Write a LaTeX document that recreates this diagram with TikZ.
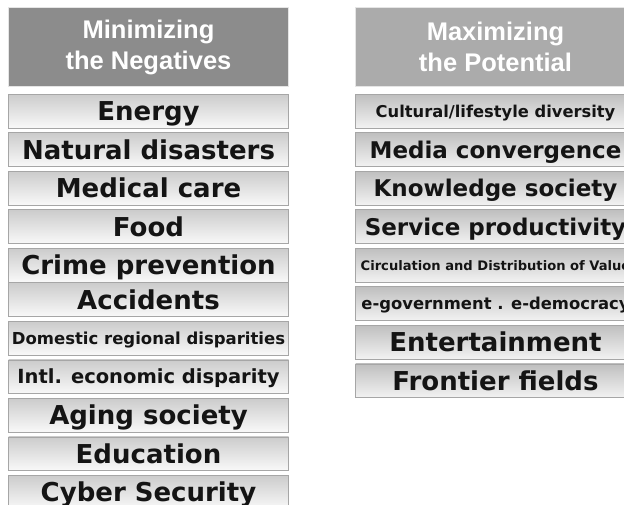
\documentclass[tikz,border=0pt]{standalone}
\usepackage{fontspec}
\newfontfamily\headfont{Liberation Sans}
\newfontfamily\boxfont{DejaVu Sans}
\usetikzlibrary{positioning}
\newcommand\boxtxt[1]{\boxfont\bfseries\fontsize{#1}{#1}\selectfont}
\tikzstyle{titre}=[rectangle,draw=gray!20,line width=1pt,text=white,minimum width=280pt,minimum height=79pt,inner sep=0pt,align=center,font=\headfont\bfseries\fontsize{25.5}{31}\selectfont]
\tikzstyle{case}=[rectangle,draw=gray!70,line width=0.8pt,top color=gray!40,bottom color=gray!5,minimum width=280pt,minimum height=33.7pt,inner sep=0pt,text=black!92]
\tikzstyle{casedroite}=[case,top color=gray!50,bottom color=gray!10]
\tikzset{taille/.style={font=\boxtxt{#1},text height={0.73*#1pt},text depth=0pt}}

\begin{document}
\begin{tikzpicture}[x=1pt,y=1pt,node distance=4pt]
\useasboundingbox (0,0) rectangle (624,-505);
\clip (0,0) rectangle (624,-505);

% colonne gauche
\node[titre,fill=black!45,anchor=north west] (Tmin) at (8,-7) {Minimizing\\the Negatives};
\node[case,taille=26] (Energy) [below =7pt of Tmin] {Energy};
\node[case,taille=26] (Natural) [below =of Energy] {Natural disasters};
\node[case,taille=26] (Medical) [below =of Natural] {Medical care};
\node[case,taille=26] (Food) [below =of Medical] {Food};
\node[case,taille=26] (Crime) [below =of Food] {Crime prevention};
\node[case,taille=26] (Accid) [below =0pt of Crime] {Accidents};
\node[case,taille=16.5] (Domestic) [below =of Accid] {Domestic regional disparities};
\node[case,taille=19.5] (Intl) [below =of Domestic] {Intl. economic disparity};
\node[case,taille=26] (Aging) [below =of Intl] {Aging society};
\node[case,taille=26] (Educ) [below =of Aging] {Education};
\node[case,taille=26] (Cyber) [below =of Educ] {Cyber Security};

% colonne droite
\node[titre,fill=black!33,anchor=north west] (Tmax) at (355,-7) {Maximizing\\the Potential};
\node[casedroite,taille=16.3] (Cultural) [below =7pt of Tmax] {Cultural/lifestyle diversity};
\node[casedroite,taille=23] (Media) [below =of Cultural] {Media convergence};
\node[casedroite,taille=23] (Know) [below =of Media] {Knowledge society};
\node[casedroite,taille=23] (Service) [below =of Know] {Service productivity};
\node[casedroite,taille=13.1] (Circ) [below =of Service] {Circulation and Distribution of Value};
\node[casedroite,taille=16.4] (Egov) [below =of Circ] {e-government . e-democracy};
\node[casedroite,taille=26] (Enter) [below =of Egov] {Entertainment};
\node[casedroite,taille=26] (Front) [below =of Enter] {Frontier fields};

\end{tikzpicture}
\end{document}
